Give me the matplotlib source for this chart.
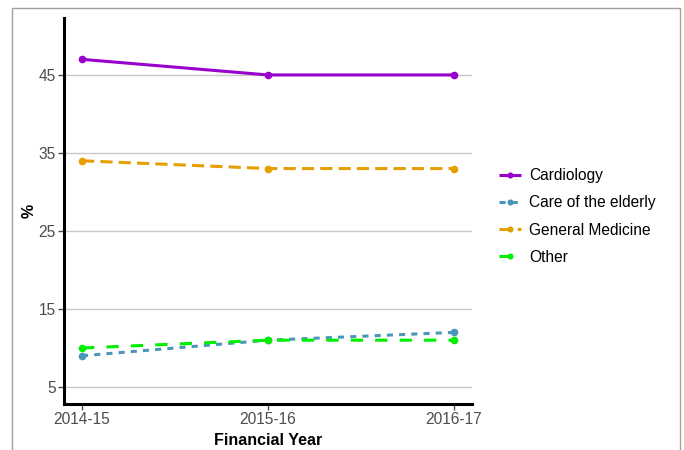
import matplotlib
matplotlib.use("Agg")
import matplotlib.pyplot as plt
from matplotlib.patches import Rectangle

years = ["2014-15", "2015-16", "2016-17"]
cardiology = [47, 45, 45]
care_elderly = [9, 11, 12]
general_medicine = [34, 33, 33]
other = [10, 11, 11]
y_ticks = [5, 15, 25, 35, 45]

plt.rcParams['font.family'] = ['Liberation Sans', 'DejaVu Sans']

fig = plt.figure(figsize=(6.84, 4.5), dpi=100)
ax = fig.add_axes([64/684, 46/450, (472-64)/684, (404-18)/450])

lw = 2.2
x = list(range(len(years)))
series = [
    ("Cardiology", cardiology, "#9900CC", None),
    ("Care of the elderly", care_elderly, "#4B96B8", (0, (2, 2))),
    ("General Medicine", general_medicine, "#E69F00", (0, (4, 2))),
    ("Other", other, "#00EE00", (0, (4, 4))),
]
handles = []
for name, vals, col, ls in series:
    kw = dict(color=col, linewidth=lw, marker='o', markersize=5.5,
              markeredgewidth=0, label=name, solid_capstyle='butt')
    if ls is not None:
        kw['linestyle'] = ls
    h, = ax.plot(x, vals, **kw)
    handles.append(h)

ax.set_xlim(-0.097, 2.097)
ax.set_ylim(2.82, 52.3)
ax.set_xticks(x)
ax.set_xticklabels(years)
ax.set_yticks(y_ticks)
ax.grid(axis='y', color='#C8C8C8', linewidth=1.0)
ax.set_axisbelow(True)
for s in ['top', 'right']:
    ax.spines[s].set_visible(False)
for s in ['left', 'bottom']:
    ax.spines[s].set_linewidth(2.2)
    ax.spines[s].set_color('black')
ax.tick_params(axis='both', colors='#4D4D4D', labelsize=11.2, length=4, width=1, pad=2)
ax.set_xlabel("Financial Year", fontsize=11.5, fontweight='bold', labelpad=4)
ax.set_ylabel("%", fontsize=11.5, fontweight='bold', labelpad=1)

leg = fig.legend(handles=handles, loc='center left', bbox_to_anchor=(493/684, 1-216.5/450),
                 frameon=False, fontsize=11.2, handlelength=1.4, handletextpad=0.5,
                 labelspacing=0.78, borderaxespad=0, markerscale=0.8)

fig.patches.append(Rectangle((12/684, -0.01), (680-12)/684, (450-8)/450 + 0.01,
                             transform=fig.transFigure, fill=False,
                             edgecolor='#A0A0A0', linewidth=1.0))

fig.savefig("out.png", dpi=100)
